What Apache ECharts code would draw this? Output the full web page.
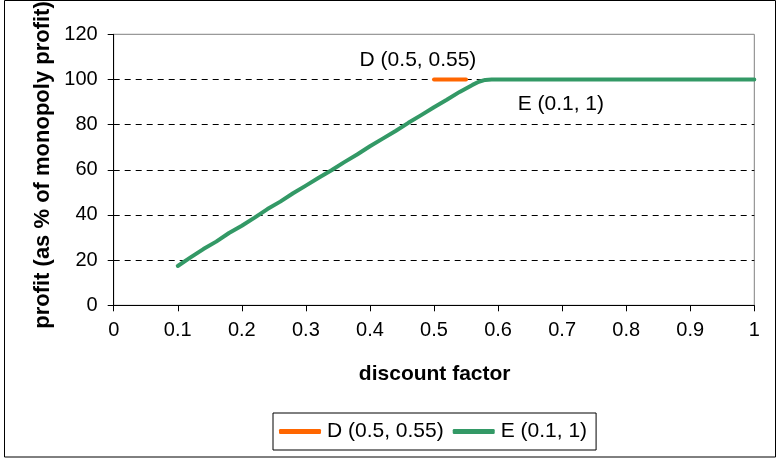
<!DOCTYPE html>
<html>
<head>
<meta charset="utf-8">
<script src="https://cdn.jsdelivr.net/npm/echarts@6/dist/echarts.min.js"></script>
<style>
html,body{margin:0;padding:0;background:#fff;}
#c{width:777px;height:458px;}
</style>
</head>
<body>
<div id="c"></div>
<script>
// Data
const seriesDName = 'D (0.5, 0.55)';
const seriesEName = 'E (0.1, 1)';
const dX = [0.5, 0.55];
const dY = [100, 100];
const eX = [0.10, 0.12, 0.14, 0.16, 0.18, 0.20, 0.22, 0.24, 0.26, 0.28, 0.30, 0.32, 0.34, 0.36, 0.38, 0.40, 0.42, 0.44, 0.46, 0.48, 0.50, 0.52, 0.54, 0.56, 0.57, 0.58, 0.59, 0.60, 0.70, 0.80, 0.90, 1.00];
const eY = [17.4, 21.2, 24.9, 28.2, 32.0, 35.2, 38.8, 42.6, 45.9, 49.6, 53.0, 56.5, 59.8, 63.4, 66.8, 70.4, 73.8, 77.2, 80.8, 84.2, 87.7, 91.0, 94.5, 97.6, 99.0, 99.8, 100, 100, 100, 100, 100, 100];
const xTitle = 'discount factor';
const yTitle = 'profit (as % of monopoly profit)';
const xMin = 0, xMax = 1, xStep = 0.1;
const yMin = 0, yMax = 120, yStep = 20;

const FONT = 'Liberation Sans, Arial, sans-serif';
const GREEN = '#339966';
const ORANGE = '#FF6600';

const chart = echarts.init(document.getElementById('c'), null, {renderer: 'canvas'});
const zip = (xs, ys) => xs.map((x, i) => [x, ys[i]]);

chart.setOption({
  backgroundColor: '#fff',
  animation: false,
  textStyle: {fontFamily: FONT, color: '#000'},
  grid: {left: 113.7, right: 22.7, top: 34.3, bottom: 152.7, show: true, borderColor: '#808080', borderWidth: 1},
  xAxis: {
    type: 'value', min: xMin, max: xMax, interval: xStep,
    axisLine: {lineStyle: {color: '#000', width: 1}},
    axisTick: {show: true, inside: false, length: 6, lineStyle: {color: '#000'}},
    axisLabel: {margin: 15, fontSize: 20, color: '#000', fontFamily: FONT,
      formatter: v => String(+v.toFixed(1))},
    splitLine: {show: false}
  },
  yAxis: {
    type: 'value', min: yMin, max: yMax, interval: yStep,
    axisLine: {show: true, lineStyle: {color: '#000', width: 1}},
    axisTick: {show: true, inside: false, length: 6, lineStyle: {color: '#000'}},
    axisLabel: {margin: 16, fontSize: 20, color: '#000', fontFamily: FONT},
    splitLine: {show: true, showMinLine: false, showMaxLine: false, lineStyle: {color: '#000', type: [6, 5], width: 1}}
  },
  legend: {
    left: 273, top: 413,
    padding: [8, 9, 8, 6],
    itemGap: 9,
    itemWidth: 42, itemHeight: 5,
    borderColor: '#000', borderWidth: 1,
    textStyle: {fontSize: 21, color: '#000', fontFamily: FONT, padding: [0, 0, 0, 1]},
    data: [
      {name: seriesDName, icon: 'roundRect'},
      {name: seriesEName, icon: 'roundRect'}
    ]
  },
  graphic: [
    {type: 'rect', shape: {x: 4.5, y: 0.5, width: 771, height: 456.5}, style: {fill: null, stroke: '#000', lineWidth: 1}, silent: true, z: -1},
    {type: 'text', x: 42.5, y: 165, rotation: Math.PI / 2,
      style: {text: yTitle, font: 'bold 22px ' + FONT, fill: '#000', align: 'center', verticalAlign: 'middle'}},
    {type: 'text', x: 434.7, y: 374,
      style: {text: xTitle, font: 'bold 21px ' + FONT, fill: '#000', align: 'center', verticalAlign: 'middle'}}
  ],
  series: [
    {
      name: seriesDName, type: 'line', data: zip(dX, dY),
      showSymbol: false, symbol: 'none',
      itemStyle: {color: ORANGE},
      lineStyle: {color: ORANGE, width: 4, cap: 'round'},
      z: 3,
      markPoint: {
        symbol: 'circle', symbolSize: 0,
        label: {show: true, position: 'inside', fontSize: 21, color: '#000', fontFamily: FONT,
          formatter: seriesDName},
        data: [{coord: [0.475, 108.6]}]
      }
    },
    {
      name: seriesEName, type: 'line', data: zip(eX, eY),
      showSymbol: false, symbol: 'none', smooth: false,
      itemStyle: {color: GREEN},
      lineStyle: {color: GREEN, width: 4, cap: 'round', join: 'round'},
      z: 2,
      markPoint: {
        symbol: 'circle', symbolSize: 0,
        label: {show: true, position: 'inside', fontSize: 21, color: '#000', fontFamily: FONT,
          formatter: seriesEName},
        data: [{coord: [0.698, 89.1]}]
      }
    }
  ]
});
</script>
</body>
</html>
